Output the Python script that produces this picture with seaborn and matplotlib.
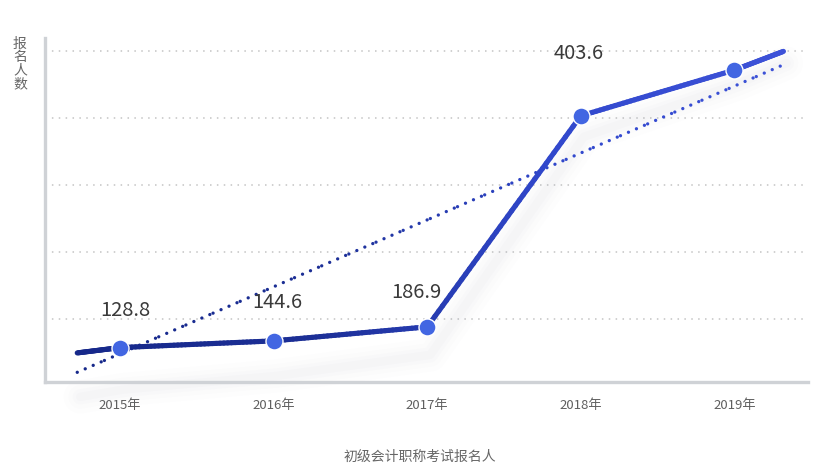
import matplotlib
matplotlib.use("Agg")
import matplotlib.pyplot as plt
import matplotlib.transforms as mtransforms
from matplotlib.collections import LineCollection
from matplotlib.colors import LinearSegmentedColormap
import seaborn as sns
import numpy as np
import pandas as pd

# ─── Datos ────────────────────────────────────────────────────────────────────
anios = ["2015年", "2016年", "2017年", "2018年", "2019年"]
valores = [57, 67, 88, 403.6, 472]          # altura de la línea en el eje
etiquetas = ["128.8", "144.6", "186.9", "403.6", ""]
extremos = [49, 500]                        # valor en los extremos prolongados
tendencia = [20, 480]                       # recta punteada (inicio, fin)

# ─── Estilo ───────────────────────────────────────────────────────────────────
sns.set_theme(style="white")
plt.rcParams["font.family"] = ["Noto Sans CJK SC", "DejaVu Sans"]

X_INI, X_FIN = -0.28, 4.32
cmap = LinearSegmentedColormap.from_list("azul", ["#16288a", "#1c2f96", "#3148cc", "#3d52d8"])
desplaz = [(3.6, 26.6), (2.9, 27.4), (-7.9, 24.5), (-1.4, 44.6), (0, 0)]

fig = plt.figure(figsize=(8.28, 4.71), dpi=100)
ax = fig.add_axes([45 / 828, 1 - 382 / 471, 763 / 828, 344 / 471])
ax.set_xlim(-0.49, 4.48)
ax.set_ylim(5.5, 520)

# trazado denso de la línea (para el degradado)
xs_base = [X_INI] + list(range(len(valores))) + [X_FIN]
ys_base = [extremos[0]] + valores + [extremos[1]]
xs, ys = [], []
for i in range(len(xs_base) - 1):
    t = np.linspace(0, 1, 40, endpoint=False)
    xs.extend(xs_base[i] + (xs_base[i + 1] - xs_base[i]) * t)
    ys.extend(ys_base[i] + (ys_base[i + 1] - ys_base[i]) * t)
xs.append(xs_base[-1]); ys.append(ys_base[-1])
xs, ys = np.array(xs), np.array(ys)
pts = np.column_stack([xs, ys]).reshape(-1, 1, 2)
segs = np.concatenate([pts[:-1], pts[1:]], axis=1)
col = cmap((xs[:-1] - X_INI) / (X_FIN - X_INI))

# sombra (perspectiva)
fig.canvas.draw()
x0 = ax.transData.transform((0, 0))[0]
k = 7 / 153.7
sombra_tr = ax.transData + mtransforms.Affine2D(
    np.array([[1, 0, 3], [k, 1, -42 - k * x0], [0, 0, 1]]))
for lw, a in [(24, 0.015), (17, 0.02), (11, 0.025), (6, 0.03)]:
    ax.plot(xs, ys, color="#9aa0b4", lw=lw, alpha=a, transform=sombra_tr,
            clip_on=False, solid_capstyle="round", zorder=1)

# grilla punteada
ax.set_yticks([100, 200, 300, 400, 500])
ax.yaxis.grid(True, linestyle=(0, (1, 3.5)), color="#c4c4c4", lw=1.1)
ax.set_yticklabels([])

# recta de tendencia punteada con degradado
n = 26
tx = np.linspace(X_INI, X_FIN, n + 1)
ty = np.linspace(tendencia[0], tendencia[1], n + 1)
for i in range(n):
    ax.plot(tx[i:i + 2], ty[i:i + 2], color=cmap(i / n), lw=2.4,
            linestyle=(0, (0.01, 2.6)), dash_capstyle="round", zorder=3)

# línea principal
lc = LineCollection(segs, colors=col, linewidths=3.7, capstyle="round",
                    joinstyle="round", zorder=4)
ax.add_collection(lc)

# puntos
df = pd.DataFrame({"x": range(len(valores)), "y": valores})
sns.scatterplot(data=df, x="x", y="y", ax=ax, s=150, color="#4266e2",
                edgecolor="white", linewidth=1.0, zorder=5, legend=False)

# etiquetas de valor
for i, (v, txt) in enumerate(zip(valores, etiquetas)):
    if txt:
        ax.annotate(txt, xy=(i, v), xytext=desplaz[i], textcoords="offset points",
                    ha="center", va="center", fontsize=14.5, color="#3a3a3a")

# ejes
ax.set_xticks(range(len(anios)))
ax.set_xticklabels(anios, fontsize=9.5, color="#5f5f5f")
ax.tick_params(axis="both", length=0)
ax.tick_params(axis="x", pad=12.5)
ax.set_xlabel("")
ax.set_ylabel("")
for s in ["top", "right"]:
    ax.spines[s].set_visible(False)
for s in ["left", "bottom"]:
    ax.spines[s].set_color("#cfd2d6")
    ax.spines[s].set_linewidth(2.4)

fig.text(20 / 828, 1 - 64 / 471, "报\n名\n人\n数", ha="center", va="center",
         fontsize=10, color="#666666", linespacing=0.95)
fig.text(420 / 828, 1 - 457 / 471, "初级会计职称考试报名人", ha="center", va="center",
         fontsize=10, color="#666666")

fig.savefig("out.png", dpi=100)
